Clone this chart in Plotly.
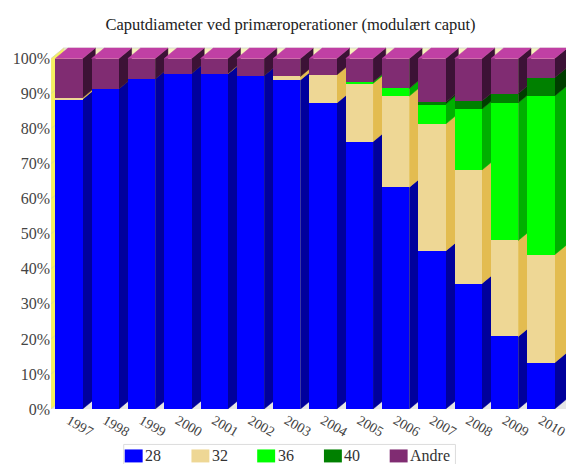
import plotly.graph_objects as go

years = list(range(1997, 2011))
series_names = ["28", "32", "36", "40", "Andre"]
s28 = [88.4, 91.3, 94.2, 95.7, 95.6, 95.1, 93.9, 87.3, 76.3, 63.3, 45.1, 35.8, 20.7, 13.2]
s32 = [0.4, 0, 0, 0, 0.1, 0, 1.0, 8.0, 16.6, 26.0, 36.2, 32.4, 27.4, 30.8]
s36 = [0, 0, 0, 0, 0, 0, 0, 0, 0.4, 2.2, 5.7, 17.4, 39.3, 45.3]
s40 = [0, 0, 0, 0, 0, 0, 0, 0, 0, 0, 0.5, 2.3, 2.6, 5.2]
andre = [11.2, 8.7, 5.8, 4.3, 4.3, 4.9, 5.1, 4.7, 6.7, 8.5, 12.5, 12.1, 10.0, 5.5]
series = [s28, s32, s36, s40, andre]
y_ticks = list(range(0, 101, 10))
y_labels = [f"{v}%" for v in y_ticks]

front = ["#0000ff", "#eed795", "#00ff00", "#008000", "#802c72"]
side = ["#00009c", "#e3bc50", "#00b000", "#003e00", "#3c1236"]
top_color = "#c040a4"
SERIF = "Liberation Serif, Times New Roman, serif"

# axis geometry
X0, X1 = 1996.506, 2010.69
Y1 = 103.3
BW = 0.752
DX, DY = 0.35, 3.0

fig = go.Figure()
for name, vals, col in zip(series_names, series, front):
    fig.add_trace(go.Bar(x=years, y=vals, name=name, width=BW, marker=dict(color=col, line=dict(width=0)),
                         showlegend=False))

def poly(pts, fill, line=None, width=0.5):
    d = "M" + " L".join(f"{x},{y}" for x, y in pts) + " Z"
    return dict(type="path", path=d, xref="x", yref="y", layer="below", fillcolor=fill,
                line=dict(color=line or fill, width=width))

shapes = [
    poly([(X0 + DX, DY), (X1 + 1, DY), (X1 + 1, Y1 - 0.3), (X0 + DX, Y1 - 0.3)], "#f6f2bc", "#d8d8d0", 1),
    poly([(X0, 0), (X0 + DX, DY), (X1 + 1, DY), (X1 + 1, 0)], "#e6e6e6"),
    poly([(X0, 0), (X0 + DX, DY), (X0 + DX, Y1 - 0.3), (X0, 100)], "#f5f060", "#e8e6a0", 0.5),
]
for v in y_ticks:
    shapes.append(dict(type="line", xref="x", yref="y", layer="below", x0=X0, x1=X0 + DX, y0=v, y1=v + DY,
                       line=dict(color="#c8c8b0", width=0.5)))
for i, yr in enumerate(years):
    xr = yr + BW / 2
    base = 0
    for vals, sc in zip(series, side):
        v = vals[i]
        if v > 0:
            t = base + v
            shapes.append(poly([(xr, base), (xr + DX, base + DY), (xr + DX, t + DY), (xr, t)], sc))
            base = t
    shapes.append(poly([(yr - BW / 2, base), (xr, base), (xr + DX, base + DY), (yr - BW / 2 + DX, base + DY)], top_color))

# legend drawn at the reference's proportions
legend_x = [125, 192, 258, 325, 391]
shapes.append(dict(type="rect", xref="paper", yref="paper", layer="above",
                   x0=(124 - 51) / 517, x1=(457 - 51) / 517,
                   y0=-(466 - 409.5) / 362.5, y1=-(445 - 409.5) / 362.5,
                   line=dict(color="#dcdcdc", width=1), fillcolor="rgba(0,0,0,0)"))
annotations = []
for lx, name, col in zip(legend_x, series_names, front):
    shapes.append(dict(type="rect", xref="paper", yref="paper", layer="above",
                       x0=(lx - 51) / 517, x1=(lx + 18 - 51) / 517,
                       y0=-(463 - 409.5) / 362.5, y1=-(450 - 409.5) / 362.5,
                       line=dict(width=0), fillcolor=col))
    annotations.append(dict(text=name, xref="paper", yref="paper", showarrow=False,
                            x=(lx + 18.5 - 51) / 517, xanchor="left",
                            y=-(456 - 409.5) / 362.5, yanchor="middle",
                            font=dict(family=SERIF, size=16, color="#333333")))

fig.update_layout(
    width=568, height=464,
    margin=dict(l=51, r=0, t=47, b=54.5),
    barmode="stack", paper_bgcolor="white", plot_bgcolor="white",
    showlegend=False, shapes=shapes, annotations=annotations, hovermode=False,
    title=dict(text="Caputdiameter ved primæroperationer (modulært caput)",
               x=290.5 / 568, xanchor="center", y=1 - 24 / 464, yanchor="middle",
               font=dict(family=SERIF, size=16.5, color="#222222")),
    xaxis=dict(range=[X0, X1], tickvals=years, ticktext=[str(y) for y in years], tickangle=30,
               ticklabeloverflow="allow",
               showgrid=False, zeroline=False, showline=False, ticks="",
               tickfont=dict(family=SERIF, size=14, color="#444444")),
    yaxis=dict(range=[0, Y1], tickvals=y_ticks, ticktext=y_labels,
               showgrid=False, zeroline=False, showline=False, ticks="",
               tickfont=dict(family=SERIF, size=16, color="#444444")),
)
fig.write_html("out.html", config={"displayModeBar": False},
               post_script="document.body.style.margin='0';document.documentElement.style.overflow='hidden';")
